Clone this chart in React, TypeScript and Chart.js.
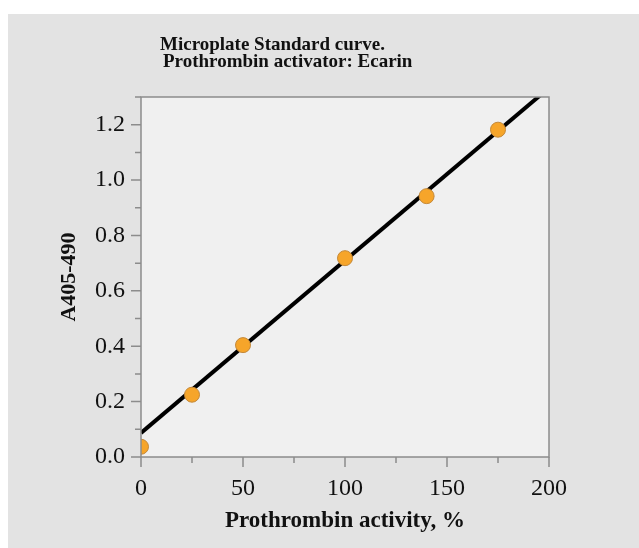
import React, { useEffect, useRef } from "react";
import { Chart, registerables } from "chart.js";

Chart.register(...registerables);

const titleLines = ["Microplate Standard curve.", "Prothrombin activator: Ecarin"];
const xAxisTitle = "Prothrombin activity, %";
const yAxisTitle = "A405-490";

const activity = [0, 25, 50, 100, 140, 175];
const absorbance = [0.037, 0.225, 0.404, 0.718, 0.942, 1.182];

const fitX = [0, 200];
const fitY = [0.087, 1.333];

const xMin = 0, xMax = 200, xStep = 25, xLabelEvery = 50;
const yMin = 0, yMax = 1.3, yStep = 0.1, yLabelEvery = 0.2;

const FONT = "'Liberation Serif', 'Times New Roman', serif";

const framePlugin = {
  id: "frame",
  beforeDraw(chart: any) {
    const { ctx, chartArea: a, width, height } = chart;
    ctx.save();
    ctx.fillStyle = "#e3e3e3";
    ctx.fillRect(0, 0, width, height);
    ctx.fillStyle = "#f0f0f0";
    ctx.fillRect(a.left, a.top, a.right - a.left, a.bottom - a.top);
    ctx.restore();
  },
  afterDraw(chart: any) {
    const { ctx, chartArea: a } = chart;
    ctx.save();
    ctx.strokeStyle = "#8c8c8c";
    ctx.lineWidth = 1.5;
    ctx.strokeRect(a.left, a.top, a.right - a.left, a.bottom - a.top);
    const xs = chart.scales.x;
    const ys = chart.scales.y;
    ctx.beginPath();
    xs.ticks.forEach((t: any, i: number) => {
      const px = xs.getPixelForTick(i);
      const major = Math.abs(t.value / xLabelEvery - Math.round(t.value / xLabelEvery)) < 1e-6;
      ctx.moveTo(px, a.bottom);
      ctx.lineTo(px, a.bottom + (major ? 10 : 6));
    });
    ys.ticks.forEach((t: any, i: number) => {
      const py = ys.getPixelForTick(i);
      const major = Math.abs(t.value / yLabelEvery - Math.round(t.value / yLabelEvery)) < 1e-6;
      ctx.moveTo(a.left, py);
      ctx.lineTo(a.left - (major ? 10 : 6), py);
    });
    ctx.stroke();
    ctx.fillStyle = "#111";
    ctx.font = `bold 19px ${FONT}`;
    ctx.textAlign = "left";
    ctx.textBaseline = "alphabetic";
    ctx.fillText(titleLines[0], a.left + 19, 36);
    ctx.fillText(titleLines[1], a.left + 22, 53);
    ctx.restore();
  },
};

export default function App() {
  const ref = useRef<HTMLCanvasElement | null>(null);

  useEffect(() => {
    document.body.style.margin = "0";
    document.documentElement.style.overflow = "hidden";
    const canvas = ref.current;
    if (!canvas) return;
    const chart = new Chart(canvas, {
      type: "scatter",
      data: {
        datasets: [
          {
            label: "Standards",
            data: activity.map((x, i) => ({ x, y: absorbance[i] })),
            pointRadius: 7.5,
            pointBackgroundColor: "#f6a52a",
            pointBorderColor: "#c4893a",
            pointBorderWidth: 1,
            showLine: false,
          },
          {
            label: "Fit",
            data: fitX.map((x, i) => ({ x, y: fitY[i] })),
            showLine: true,
            borderColor: "#000",
            borderWidth: 4,
            pointRadius: 0,
          },
        ],
      },
      options: {
        animation: false,
        responsive: false,
        maintainAspectRatio: false,
        devicePixelRatio: 1,
        layout: { padding: { top: 83, right: 90, left: 0, bottom: 0 } },
        plugins: {
          legend: { display: false },
          tooltip: { enabled: false },
          title: { display: false },
        },
        scales: {
          x: {
            type: "linear",
            min: xMin,
            max: xMax,
            grid: { display: false, drawTicks: false },
            border: { display: false },
            afterFit: (s: any) => {
              s.height = 91;
            },
            ticks: {
              stepSize: xStep,
              padding: 17,
              color: "#111",
              font: { family: FONT, size: 24 },
              maxRotation: 0,
              autoSkip: false,
              callback: (v: any) => {
                const n = Number(v);
                return Math.abs(n / xLabelEvery - Math.round(n / xLabelEvery)) < 1e-6 ? String(Math.round(n)) : "";
              },
            },
            title: {
              display: true,
              text: xAxisTitle,
              color: "#111",
              font: { family: FONT, size: 23, weight: "bold" },
              padding: { top: 0, bottom: 13 },
            },
          },
          y: {
            type: "linear",
            min: yMin,
            max: yMax,
            grid: { display: false, drawTicks: false },
            border: { display: false },
            afterFit: (s: any) => {
              s.width = 133;
            },
            ticks: {
              stepSize: yStep,
              padding: 16,
              color: "#111",
              font: { family: FONT, size: 24 },
              autoSkip: false,
              callback: (v: any) => {
                const n = Number(v);
                return Math.abs(n / yLabelEvery - Math.round(n / yLabelEvery)) < 1e-6 ? n.toFixed(1) : "";
              },
            },
            title: {
              display: true,
              text: yAxisTitle,
              color: "#111",
              font: { family: FONT, size: 22, weight: "bold" },
              padding: { top: 48, bottom: 0 },
            },
          },
        },
      },
      plugins: [framePlugin],
    } as any);
    return () => chart.destroy();
  }, []);

  return (
    <div style={{ paddingLeft: 8, paddingTop: 14, background: "#fff", width: 639, height: 548, boxSizing: "border-box" }}>
      <canvas ref={ref} width={631} height={534} style={{ display: "block", width: 631, height: 534 }} />
    </div>
  );
}
